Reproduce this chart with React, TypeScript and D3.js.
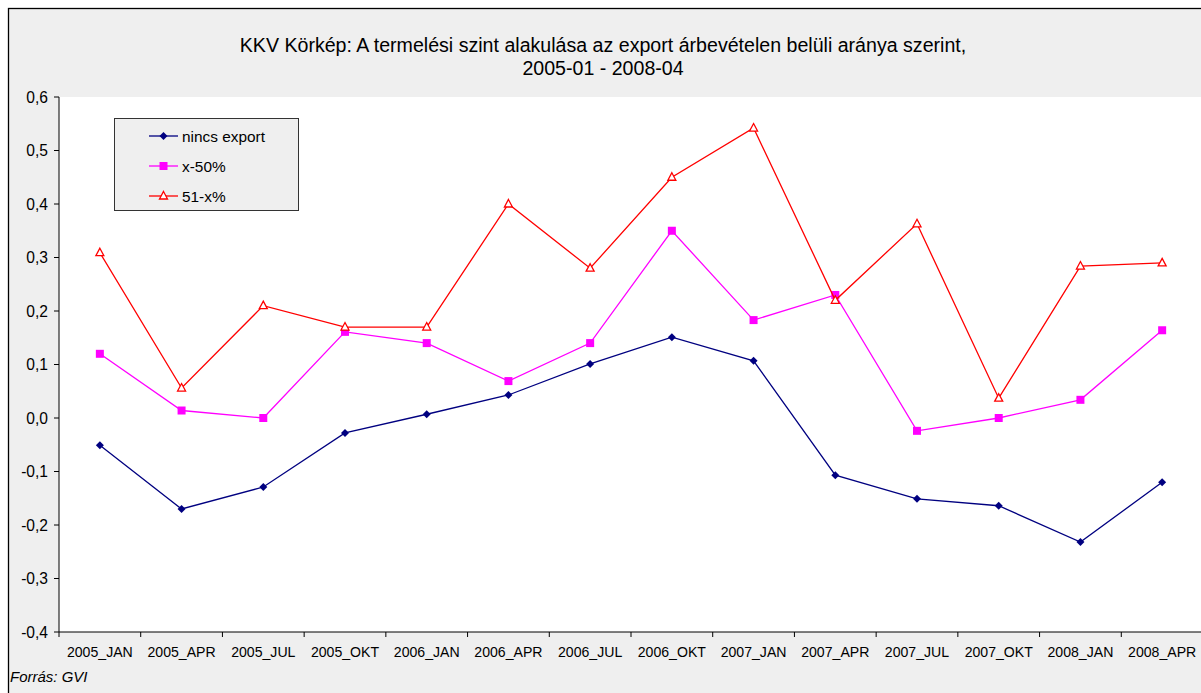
import React from "react";
import * as d3 from "d3";

const categories = [
  "2005_JAN", "2005_APR", "2005_JUL", "2005_OKT",
  "2006_JAN", "2006_APR", "2006_JUL", "2006_OKT",
  "2007_JAN", "2007_APR", "2007_JUL", "2007_OKT",
  "2008_JAN", "2008_APR",
];

const nincsExport = [
  -0.051, -0.17, -0.129, -0.028, 0.007, 0.043, 0.101, 0.151,
  0.107, -0.107, -0.151, -0.164, -0.232, -0.12,
];
const x50 = [
  0.12, 0.014, 0.0, 0.161, 0.14, 0.069, 0.14, 0.35,
  0.183, 0.23, -0.024, 0.0, 0.034, 0.164,
];
const x51 = [
  0.309, 0.056, 0.21, 0.17, 0.17, 0.4, 0.28, 0.45,
  0.542, 0.22, 0.363, 0.037, 0.284, 0.29,
];

const yTicks = [0.6, 0.5, 0.4, 0.3, 0.2, 0.1, 0, -0.1, -0.2, -0.3, -0.4];

const series = [
  { name: "nincs export", values: nincsExport, color: "#000080", marker: "diamond" },
  { name: "x-50%", values: x50, color: "#ff00ff", marker: "square" },
  { name: "51-x%", values: x51, color: "#ff0000", marker: "triangle" },
];

const W = 1201;
const H = 693;
const left = 59;
const right = 1203;
const top = 97;
const bottom = 632;
const font = "'Liberation Sans', Arial, sans-serif";

function Marker({ type, x, y, color }: { type: string; x: number; y: number; color: string }) {
  if (type === "diamond") {
    return <path d={`M${x},${y - 4}L${x + 4},${y}L${x},${y + 4}L${x - 4},${y}Z`} fill={color} />;
  }
  if (type === "square") {
    return <rect x={x - 4} y={y - 4} width={8} height={8} fill={color} />;
  }
  return (
    <path
      d={`M${x},${y - 4.5}L${x + 4},${y + 3}L${x - 4},${y + 3}Z`}
      fill="white"
      stroke={color}
      strokeWidth={1.3}
    />
  );
}

export default function App() {
  const x = d3.scaleBand().domain(categories).range([left, right]);
  const y = d3.scaleLinear().domain([-0.4, 0.6]).range([bottom, top]);
  const cx = (c: string) => (x(c) as number) + x.bandwidth() / 2;
  const fmt = (v: number) => d3.format(".1f")(v).replace(".", ",").replace("−", "-");

  const line = d3
    .line<number>()
    .x((_, i) => cx(categories[i]))
    .y((d) => y(d));

  const boundaries = categories.map((c) => x(c) as number).concat([right]);

  return (
    <svg
      width={W}
      height={H}
      style={{ position: "absolute", left: 0, top: 0, fontFamily: font }}
    >
      <rect x={8.5} y={8.5} width={1300} height={800} fill="#efefef" stroke="#000" strokeWidth={1.3} />
      <rect x={left} y={top} width={right - left} height={bottom - top} fill="#fff" />

      <text x={603} y={52} textAnchor="middle" fontSize={19.6} fill="#000">
        KKV Körkép: A termelési szint alakulása az export árbevételen belüli aránya szerint,
      </text>
      <text x={603} y={75} textAnchor="middle" fontSize={19.6} fill="#000">
        2005-01 - 2008-04
      </text>

      {/* y axis */}
      <line x1={left} x2={left} y1={top} y2={bottom} stroke="#000" />
      {yTicks.map((t) => (
        <g key={t}>
          <line x1={left - 5} x2={left} y1={y(t)} y2={y(t)} stroke="#000" />
          <text x={48} y={y(t) + 5.5} textAnchor="end" fontSize={15.6} fill="#000">
            {fmt(t)}
          </text>
        </g>
      ))}

      {/* x axis */}
      <line x1={left} x2={right} y1={bottom} y2={bottom} stroke="#000" />
      {boundaries.map((b, i) => (
        <line key={i} x1={b} x2={b} y1={bottom} y2={bottom + 5} stroke="#000" />
      ))}
      {categories.map((c) => (
        <text key={c} x={cx(c)} y={657} textAnchor="middle" fontSize={14.1} fill="#000">
          {c}
        </text>
      ))}

      {series.map((s) => (
        <g key={s.name}>
          <path d={line(s.values) || ""} fill="none" stroke={s.color} strokeWidth={1.3} />
          {s.values.map((v, i) => (
            <Marker key={i} type={s.marker} x={cx(categories[i])} y={y(v)} color={s.color} />
          ))}
        </g>
      ))}

      {/* legend */}
      <rect x={114.5} y={118.5} width={184} height={92} fill="#efefef" stroke="#333" />
      {series.map((s, i) => {
        const ly = 136 + i * 30;
        return (
          <g key={s.name}>
            <line x1={149} x2={178} y1={ly} y2={ly} stroke={s.color} strokeWidth={1.3} />
            <Marker type={s.marker} x={163.5} y={ly} color={s.color} />
            <text x={182} y={ly + 5.5} fontSize={15.4} fill="#000">
              {s.name}
            </text>
          </g>
        );
      })}

      <text x={10} y={682} fontSize={15} fontStyle="italic" fill="#000">
        Forrás: GVI
      </text>
    </svg>
  );
}
